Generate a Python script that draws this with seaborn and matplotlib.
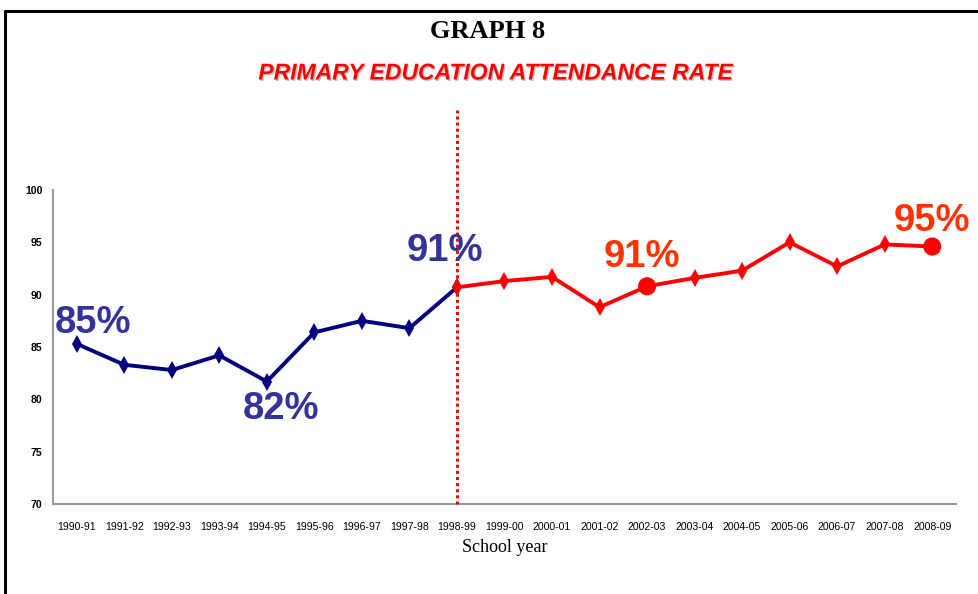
import matplotlib
matplotlib.use("Agg")
import matplotlib.pyplot as plt
import matplotlib.patheffects as pe
import pandas as pd
import seaborn as sns
from matplotlib.lines import Line2D

school_years = [
    "1990-91", "1991-92", "1992-93", "1993-94", "1994-95", "1995-96", "1996-97",
    "1997-98", "1998-99", "1999-00", "2000-01", "2001-02", "2002-03", "2003-04",
    "2004-05", "2005-06", "2006-07", "2007-08", "2008-09",
]
rates = [85.3, 83.3, 82.8, 84.2, 81.7, 86.4, 87.5, 86.8, 90.7, 91.3, 91.7,
         88.8, 90.8, 91.6, 92.3, 95.0, 92.7, 94.8, 94.6]
split_year = "1998-99"
highlight_years = ["2002-03", "2008-09"]
callouts = [("1990-91", "85%"), ("1994-95", "82%"), ("1998-99", "91%"),
            ("2002-03", "91%"), ("2008-09", "95%")]

BLUE_LINE = "#000080"
RED_LINE = "#ff0000"
BLUE_TEXT = "#333399"
RED_TEXT = "#ff3300"

split = school_years.index(split_year)
df = pd.DataFrame({"year": school_years, "rate": rates, "pos": range(len(school_years))})
before = df.iloc[: split + 1]
after = df.iloc[split:]
marked = df[df["year"].isin(highlight_years)]

sns.set_style("white")
plt.rcParams["text.color"] = "black"
plt.rcParams["xtick.color"] = "black"
plt.rcParams["ytick.color"] = "black"
plt.rcParams["axes.labelcolor"] = "black"
tick_font = ["Liberation Sans", "DejaVu Sans"]

fig = plt.figure(figsize=(9.79, 5.94), dpi=100)
ax = fig.add_axes([53 / 979, 90 / 594, 903 / 979, 314 / 594])

sns.lineplot(data=before, x="pos", y="rate", color=BLUE_LINE, lw=2.8,
             marker="d", markersize=9, markeredgewidth=0, ax=ax)
sns.lineplot(data=after, x="pos", y="rate", color=RED_LINE, lw=2.8,
             marker="d", markersize=9, markeredgewidth=0, ax=ax)
sns.scatterplot(data=marked, x="pos", y="rate", color=RED_LINE, s=170,
                edgecolor="none", ax=ax, zorder=5)

# dotted separator at the reform year
ax.plot([split, split], [70, 107.6], color=RED_LINE, lw=2.2,
        ls=(0, (1, 1)), clip_on=False, zorder=6)

# callout labels (offsets in data units from the point)
offsets = {0: (0.35, 2.0), 4: (0.3, -2.6), 8: (-0.25, 3.5), 12: (-0.1, 2.8), 18: (0.0, 2.4)}
for year, text in callouts:
    i = school_years.index(year)
    dx, dy = offsets[i]
    color = BLUE_TEXT if i <= split else RED_TEXT
    ax.text(i + dx, rates[i] + dy, text, color=color, fontsize=27.5,
            fontweight="bold", family=["Liberation Sans", "DejaVu Sans"],
            ha="center", va="center", zorder=7)

ax.set_xlim(-0.5, len(school_years) - 0.5)
ax.set_ylim(70, 100)
ax.set_yticks(range(70, 101, 5))
ax.set_xticks(range(len(school_years)))
ax.set_xticklabels(school_years)
ax.set_xticks([x - 0.5 for x in range(len(school_years) + 1)], minor=True)
ax.tick_params(axis="x", which="major", length=0, pad=13, labelsize=7.6)
ax.tick_params(axis="x", which="minor", length=5, color="#999999", width=1, direction="out")
ax.tick_params(axis="y", length=4, color="#999999", width=1, direction="out", labelsize=7.6)
for lab in ax.get_xticklabels():
    lab.set_family(tick_font)
for lab in ax.get_yticklabels():
    lab.set_family(tick_font)
    lab.set_fontweight("bold")

ax.set_xlabel("School year", family="Liberation Serif", fontsize=13, labelpad=5)
ax.set_ylabel("")
for side in ["top", "right"]:
    ax.spines[side].set_visible(False)
for side in ["left", "bottom"]:
    ax.spines[side].set_color("#999999")
    ax.spines[side].set_linewidth(1.5)

fig.text(488 / 979, 1 - 32 / 594, "GRAPH 8", family="Liberation Serif",
         fontweight="bold", fontsize=19, ha="center", va="center")
fig.text(495 / 979, 1 - 73 / 594, "PRIMARY EDUCATION ATTENDANCE RATE",
         family="Liberation Sans", fontweight="bold", style="italic",
         fontsize=16.5, color="#ff0000", ha="center", va="center",
         path_effects=[pe.withSimplePatchShadow(offset=(1, -1), shadow_rgbFace="#999999", alpha=0.6)])

# page frame, cut off at the right and bottom
fig.add_artist(Line2D([5 / 979, 5 / 979], [0, 1 - 11 / 594], color="black", lw=2.2))
fig.add_artist(Line2D([5 / 979, 1], [1 - 11 / 594, 1 - 11 / 594], color="black", lw=2.2))

fig.savefig("out.png", dpi=100)
